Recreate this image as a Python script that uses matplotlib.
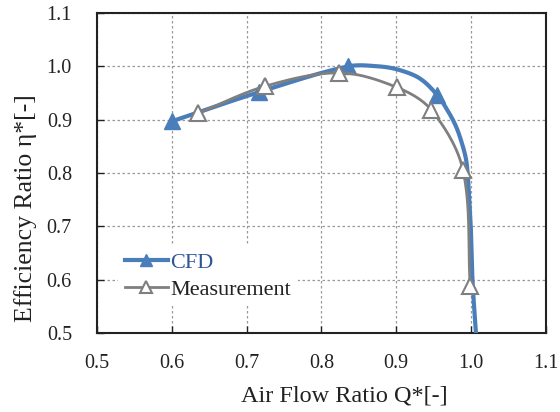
import numpy as np
import matplotlib
matplotlib.use("Agg")
import matplotlib.pyplot as plt

plt.rcParams['font.family'] = ['Liberation Serif', 'DejaVu Serif']

# CFD points with markers
cfd_q = [0.600, 0.717, 0.835, 0.955]
cfd_eta = [0.897, 0.952, 1.000, 0.946]
# CFD curve as drawn (markers + unmarked points)
cfd_line_q = [0.600, 0.717, 0.835, 0.878, 0.905, 0.932, 0.955, 0.967, 0.979, 0.987,
              0.993, 0.9955, 0.9975, 0.9995, 1.002, 1.0067, 1.011]
cfd_line_eta = [0.897, 0.952, 1.000, 1.000, 0.993, 0.977, 0.946, 0.921, 0.890, 0.859,
                0.827, 0.796, 0.750, 0.700, 0.593, 0.496, 0.400]

# measurement
meas_q = [0.635, 0.725, 0.824, 0.9005, 0.947, 0.989, 0.9987]
meas_eta = [0.912, 0.963, 0.988, 0.961, 0.918, 0.806, 0.588]

x_ticks = [0.5, 0.6, 0.7, 0.8, 0.9, 1.0, 1.1]
y_ticks = [0.5, 0.6, 0.7, 0.8, 0.9, 1.0, 1.1]


def smooth(xs, ys, ax, n=30):
    # smoothed line through the points (chord-length cubic bezier, in screen space)
    p = ax.transData.transform(np.column_stack([xs, ys]))
    d = np.linalg.norm(np.diff(p, axis=0), axis=1)
    m = len(p)
    tang = np.zeros_like(p)
    for i in range(m):
        if i == 0:
            tang[i] = (p[1] - p[0]) / d[0]
        elif i == m - 1:
            tang[i] = (p[-1] - p[-2]) / d[-1]
        else:
            tang[i] = (p[i + 1] - p[i - 1]) / (d[i - 1] + d[i])
    out = [p[0]]
    t = np.linspace(0, 1, n)[1:, None]
    for i in range(m - 1):
        p1, p2 = p[i], p[i + 1]
        c1 = p1 + tang[i] * d[i] / 3
        c2 = p2 - tang[i + 1] * d[i] / 3
        seg = (1 - t) ** 3 * p1 + 3 * (1 - t) ** 2 * t * c1 + 3 * (1 - t) * t ** 2 * c2 + t ** 3 * p2
        out.extend(seg)
    out = ax.transData.inverted().transform(np.array(out))
    return out[:, 0], out[:, 1]


fig = plt.figure(figsize=(5.6, 4.12), dpi=100)
ax = fig.add_axes([0.173, 0.192, 0.802, 0.776])
ax.set_xlim(0.5, 1.1)
ax.set_ylim(0.5, 1.1)

blue = '#4a7ebb'
gray = '#7f7f7f'
txt = '#222222'

sx, sy = smooth(cfd_line_q, cfd_line_eta, ax)
ax.plot(sx, sy, color=blue, lw=3, zorder=3)
ax.plot(cfd_q, cfd_eta, ls='none', marker='^', ms=11, color=blue, zorder=4)

mx, my = smooth(meas_q, meas_eta, ax)
ax.plot(mx, my, color=gray, lw=2, zorder=5)
ax.plot(meas_q, meas_eta, ls='none', marker='^', ms=11, mfc='white', mec=gray, mew=1.5, zorder=6)

# legend handles
h1, = ax.plot([], [], color=blue, lw=3, marker='^', ms=9)
h2, = ax.plot([], [], color=gray, lw=2, marker='^', ms=9, mfc='white', mec=gray, mew=1.5)
leg = ax.legend([h1, h2], ['CFD', 'Measurement'], loc='lower left', bbox_to_anchor=(0.027, 0.055),
                frameon=True, fontsize=16, handlelength=1.95, handletextpad=0.1,
                borderpad=0.3, borderaxespad=0.4, labelspacing=0.3)
leg.get_frame().set_edgecolor('none')
leg.get_frame().set_facecolor('white')
leg.get_frame().set_alpha(1)
leg.get_texts()[0].set_color('#2f5597')
leg.get_texts()[1].set_color(txt)

ax.set_xlim(0.5, 1.1)
ax.set_ylim(0.5, 1.1)
ax.set_xticks(x_ticks)
ax.set_yticks(y_ticks)
ax.set_xticklabels([f'{v:.1f}' for v in x_ticks])
ax.set_yticklabels([f'{v:.1f}' for v in y_ticks])
ax.tick_params(direction='in', length=5, width=1, labelsize=14.5, colors=txt)
ax.tick_params(axis='x', pad=15)
ax.tick_params(axis='y', pad=18)
ax.grid(True, color='#999999', ls=(0, (2, 2)), lw=0.9)
ax.set_axisbelow(True)
for s in ax.spines.values():
    s.set_linewidth(1.5)
    s.set_color(txt)

ax.set_xlabel('Air Flow Ratio Q*[-]', fontsize=17.5, color=txt)
ax.set_ylabel('Efficiency Ratio η*[-]', fontsize=18.5, color=txt)
ax.xaxis.set_label_coords(0.552, -0.165)
ax.yaxis.set_label_coords(-0.134, 0.39)

fig.savefig('out.png', dpi=100)
